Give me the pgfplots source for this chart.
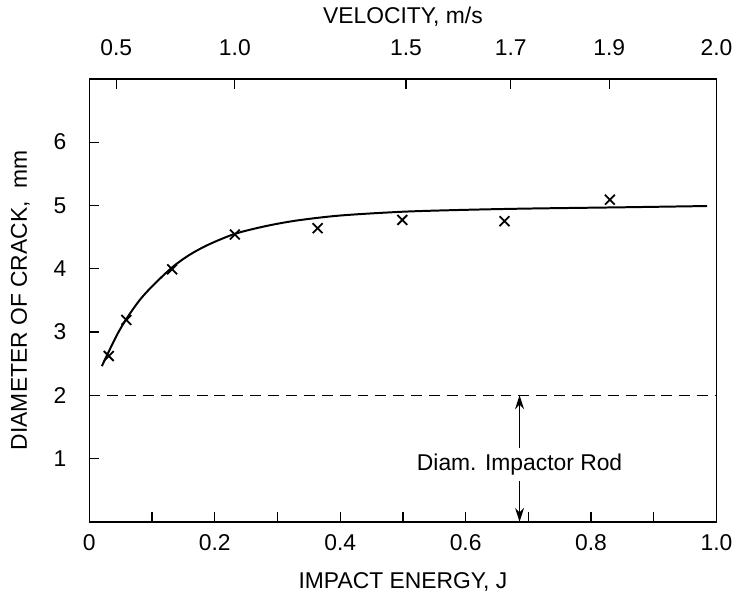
\documentclass[border=0pt]{standalone}
\usepackage{fontspec}
\setmainfont{Liberation Sans}
\usepackage{pgfplots}
\pgfplotsset{compat=1.18}
\usetikzlibrary{arrows.meta}

\pgfplotstableread{
E      D
0.031  2.62
0.059  3.19
0.132  3.99
0.232  4.54
0.364  4.64
0.499  4.77
0.662  4.75
0.830  5.09
}\measured

% hand-read points along the drawn curve
\pgfplotstableread{
E      D
0.020  2.46
0.030  2.67
0.045  2.97
0.060  3.22
0.080  3.50
0.100  3.72
0.132  4.02
0.160  4.22
0.190  4.38
0.232  4.55
0.280  4.67
0.330  4.76
0.400  4.84
0.500  4.90
0.600  4.93
0.700  4.95
0.850  4.97
0.985  4.99
}\fitcurve

\begin{document}
\begin{tikzpicture}[font=\fontsize{11.5}{13}\selectfont]
\begin{axis}[
    scale only axis,
    width=315.7pt, height=223pt,
    xmin=0, xmax=1, ymin=0, ymax=7,
    axis line style={line width=0.75pt},
    tick style={line width=0.6pt, black},
    tick align=inside,
    major tick length=5pt, minor tick length=5pt,
    xtick={0,0.2,0.4,0.6,0.8,1.0},
    xticklabels={0,0.2,0.4,0.6,0.8,1.0},
    minor xtick={0.1,0.3,0.5,0.7,0.9},
    ytick={1,2,3,4,5,6},
    xtick pos=bottom, ytick pos=left,
    /pgf/number format/assume math mode=true,
    ticklabel style={font=\fontsize{11.5}{13}\selectfont},
    label style={font=\fontsize{11.5}{13}\selectfont},
    xticklabel style={yshift=-3pt},
    yticklabel style={xshift=-8pt},
    xlabel={IMPACT ENERGY, J},
    ylabel={DIAMETER OF CRACK,\ \ mm},
    xlabel style={yshift=-4pt},
    ylabel style={yshift=3pt, inner ysep=5.5pt},
]
\addplot[black, line width=1pt, smooth, tension=0.5] table[x=E, y=D] {\fitcurve};
\addplot[only marks, mark=x, mark size=3.5pt, black, line width=0.9pt] table[x=E, y=D] {\measured};
\addplot[black, line width=0.7pt, dash pattern=on 5.5pt off 3.5pt] coordinates {(0,2) (1,2)};
\draw[-{Stealth[length=7pt,width=4.5pt]}, line width=0.6pt] (axis cs:0.686,1.17) -- (axis cs:0.686,2);
\draw[-{Stealth[length=7pt,width=4.5pt]}, line width=0.6pt] (axis cs:0.686,0.64) -- (axis cs:0.686,0);
\node at (axis cs:0.686,0.905) {Diam. Impactor Rod};
\end{axis}
\begin{axis}[
    scale only axis,
    width=315.7pt, height=223pt,
    xmin=0, xmax=1, ymin=0, ymax=7,
    axis x line*=top,
    hide y axis,
    axis line style={line width=0.75pt, -},
    tick style={line width=0.6pt, black},
    tick align=inside,
    major tick length=5pt,
    xtick={0.043,0.232,0.505,0.672,0.829,1.0},
    xticklabels={0.5,1.0,1.5,1.7,1.9,2.0},
    ticklabel style={font=\fontsize{11.5}{13}\selectfont},
    label style={font=\fontsize{11.5}{13}\selectfont},
    xticklabel style={yshift=8pt},
    xlabel={VELOCITY, m/s},
    xlabel style={yshift=0pt},
]
\end{axis}
\end{tikzpicture}
\end{document}
